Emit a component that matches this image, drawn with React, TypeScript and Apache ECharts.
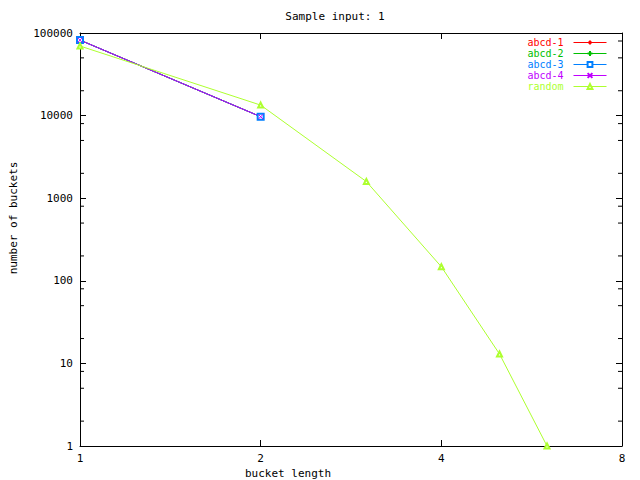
import React, { useEffect, useRef } from "react";
import * as echarts from "echarts";

const bucketLengths = [1, 2, 3, 4, 5, 6];
const abcdLengths = [1, 2];
const abcd1 = [82000, 9700];
const abcd2 = [82000, 9700];
const abcd3 = [82000, 9700];
const abcd4 = [82000, 9700];
const randomCounts = [69600, 13400, 1590, 148, 13, 1];
const xTicks = [1, 2, 4, 8];
const yTicks = [1, 10, 100, 1000, 10000, 100000];
const yMinorTicks = [2, 5, 8, 20, 50, 80, 200, 500, 800, 2000, 5000, 8000, 20000, 50000, 80000];

const FONT = "DejaVu Sans Mono";
const plusPath = "path://M0,3.5L7,3.5M3.5,0L3.5,7";
const crossPath = "path://M0,0L7,7M7,0L0,7";

export default function App() {
  const ref = useRef<HTMLDivElement>(null);
  useEffect(() => {
    if (!ref.current) return;
    const chart = echarts.init(ref.current, null, { renderer: "svg" });
    const mk = (name: string, color: string, xs: number[], ys: number[], symbol: string, size: number, stroke: boolean) => ({
      name,
      type: "line",
      data: xs.map((x, i) => [x, ys[i]]),
      symbol,
      symbolSize: size,
      lineStyle: { color, width: 1 },
      itemStyle: stroke ? { color, borderColor: color, borderWidth: 1 } : { color },
      xAxisIndex: 0,
      yAxisIndex: 0,
    });
    const series: any[] = [
      mk("abcd-1", "#ff0000", abcdLengths, abcd1, "diamond", 5, false),
      mk("abcd-2", "#00c000", abcdLengths, abcd2, plusPath, 6, true),
      mk("abcd-3", "#0080ff", abcdLengths, abcd3, "emptyRect", 6, false),
      mk("abcd-4", "#c000ff", abcdLengths, abcd4, crossPath, 5, true),
      mk("random", "#adff2f", bucketLengths, randomCounts, "emptyTriangle", 5, false),
      {
        name: "minor",
        type: "custom",
        silent: true,
        xAxisIndex: 0,
        yAxisIndex: 0,
        data: yMinorTicks.map((v) => [1, v]),
        renderItem: (params: any, api: any) => {
          const v = api.value(1);
          const pl = api.coord([xTicks[0], v]);
          const pr = api.coord([xTicks[xTicks.length - 1], v]);
          return {
            type: "group",
            children: [
              { type: "line", shape: { x1: pl[0], y1: pl[1], x2: pl[0] + 4, y2: pl[1] }, style: { stroke: "#000", lineWidth: 1 } },
              { type: "line", shape: { x1: pr[0] - 4, y1: pr[1], x2: pr[0], y2: pr[1] }, style: { stroke: "#000", lineWidth: 1 } },
            ],
          };
        },
      },
    ];
    const axisBase = {
      axisLine: { show: true, lineStyle: { color: "#000", width: 1 } },
      axisTick: { show: true, inside: true, length: 6, lineStyle: { color: "#000" } },
      splitLine: { show: false },
      minorTick: { show: false },
    };
    chart.setOption({
      animation: false,
      backgroundColor: "#fff",
      grid: { left: 80, right: 18, top: 33, bottom: 34 },
      xAxis: [
        {
          ...axisBase,
          type: "log",
          logBase: 2,
          min: xTicks[0],
          max: xTicks[xTicks.length - 1],
          splitNumber: 3,
          position: "bottom",
          axisLabel: { show: true, color: "#000", fontFamily: FONT, fontSize: 11, margin: 7, formatter: (v: number) => String(Math.round(v)) },
        },
        {
          ...axisBase,
          type: "log",
          logBase: 2,
          min: xTicks[0],
          max: xTicks[xTicks.length - 1],
          splitNumber: 3,
          position: "top",
          axisLabel: { show: false },
        },
      ],
      yAxis: [
        {
          ...axisBase,
          type: "log",
          logBase: 10,
          min: yTicks[0],
          max: yTicks[yTicks.length - 1],
          splitNumber: 5,
          position: "left",
          axisLabel: { show: true, color: "#000", fontFamily: FONT, fontSize: 11, margin: 7, formatter: (v: number) => String(Math.round(v)) },
        },
        {
          ...axisBase,
          type: "log",
          logBase: 10,
          min: yTicks[0],
          max: yTicks[yTicks.length - 1],
          splitNumber: 5,
          position: "right",
          axisLabel: { show: false },
        },
      ],
      legend: {
        orient: "vertical",
        right: 33,
        top: 37,
        padding: 0,
        itemGap: 0,
        itemWidth: 33,
        itemHeight: 6,
        align: "right",
        selectedMode: false,
        lineStyle: { width: 1 },
        textStyle: { fontFamily: FONT, fontSize: 10, lineHeight: 11, padding: [0, 5, 0, 0] },
        data: [
          { name: "abcd-1", textStyle: { color: "#ff0000" } },
          { name: "abcd-2", textStyle: { color: "#00c000" } },
          { name: "abcd-3", textStyle: { color: "#0080ff" } },
          { name: "abcd-4", textStyle: { color: "#c000ff" } },
          { name: "random", textStyle: { color: "#adff2f" } },
        ],
      },
      graphic: [
        { type: "text", x: 335, y: 16, style: { text: "Sample input: 1", fontFamily: FONT, fontSize: 11, fill: "#000", align: "center", verticalAlign: "middle" } },
        { type: "text", x: 288, y: 473, style: { text: "bucket length", fontFamily: FONT, fontSize: 11, fill: "#000", align: "center", verticalAlign: "middle" } },
        { type: "text", x: 13, y: 218, rotation: Math.PI / 2, style: { text: "number of buckets", fontFamily: FONT, fontSize: 11, fill: "#000", align: "center", verticalAlign: "middle" } },
      ],
      series,
    });
    return () => chart.dispose();
  }, []);
  return <div ref={ref} style={{ position: "fixed", left: 0, top: 0, width: 640, height: 480 }} />;
}
